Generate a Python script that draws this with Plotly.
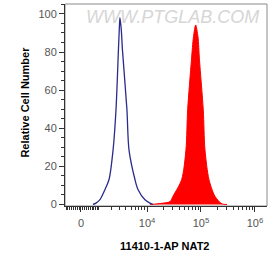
import numpy as np
import plotly.graph_objects as go

# ---- data (fluorescence intensity, relative cell number) ----
blue_x = [640, 820, 1080, 1459, 1803, 2209, 2536, 2840, 2955, 3045, 3231, 3418, 4172, 4564, 5935, 6759, 9148, 11331, 12889]
blue_y = [0, 0.7, 2.5, 7.9, 13.1, 28.8, 49.7, 81, 92, 98, 92, 81, 49.7, 28.8, 13.1, 7.9, 2.5, 0.7, 0]

red_x = [11331, 17400, 26670, 30300, 43910, 52740, 56700, 66690, 72640, 79770, 88000, 93800, 110300, 118580, 140640, 181770, 244960, 303230]
red_y = [0, 0.5, 1.5, 4.3, 13.1, 28.8, 49.7, 75.9, 88, 94.2, 88, 75.9, 49.7, 28.8, 13.1, 4.3, 0.3, 0]

x_major = [0, 1e4, 1e5, 1e6]
x_major_text = ["0", "10<sup>4</sup>", "10<sup>5</sup>", "10<sup>6</sup>"]
x_range_data = [-880, 1.67e6]
y_major = [0, 20, 40, 60, 80, 100]

x_title = "11410-1-AP NAT2"
y_title = "Relative Cell Number"
watermark = "WWW.PTGLAB.COM"

# ---- biexponential-like display scale ----
A = 1199.0
def t(v):
    return np.arcsinh(np.asarray(v, dtype=float) / A) / np.log(10)

minor_vals = [-100 * k for k in range(1, 9)] + [100 * k for k in range(1, 10)]
for n in (3, 4, 5):
    for k in range(1, 10):
        v = k * 10 ** n
        if v not in x_major:
            minor_vals.append(v)

fig = go.Figure()
fig.add_trace(go.Scatter(
    x=t(red_x), y=red_y, mode="lines", fill="tozeroy",
    line=dict(color="#ff0000", width=1, shape="spline", smoothing=0.8),
    fillcolor="#ff0000", hoverinfo="skip", showlegend=False))
fig.add_trace(go.Scatter(
    x=t(blue_x), y=blue_y, mode="lines",
    line=dict(color="#2b2b8c", width=1.3, shape="spline", smoothing=0.8),
    hoverinfo="skip", showlegend=False))

font_family = "Liberation Sans, Arial, sans-serif"

fig.update_layout(
    width=273, height=257,
    margin=dict(l=65, r=6, t=4, b=51),
    paper_bgcolor="white", plot_bgcolor="white",
    font=dict(family=font_family),
    xaxis=dict(
        range=list(t(x_range_data)), showgrid=False, zeroline=False,
        showline=True, linecolor="#333", linewidth=1,
        tickmode="array", tickvals=list(t(x_major)), ticktext=x_major_text,
        ticks="outside", ticklen=5, tickcolor="#333", tickwidth=1,
        tickfont=dict(size=11, color="#555"), ticklabelstandoff=2,
        minor=dict(tickmode="array", tickvals=list(t(minor_vals)),
                   ticks="outside", ticklen=3, tickcolor="#333", tickwidth=1),
    ),
    yaxis=dict(
        range=[-0.8, 105.2], showgrid=False, zeroline=False,
        showline=True, linecolor="#333", linewidth=1,
        tickmode="array", tickvals=y_major,
        ticks="outside", ticklen=5, tickcolor="#333", tickwidth=1,
        tickfont=dict(size=11, color="#555"),
        minor=dict(dtick=5, tick0=0, ticks="outside", ticklen=3,
                   tickcolor="#333", tickwidth=1),
    ),
    shapes=[dict(type="rect", xref="paper", yref="paper", x0=0, x1=1, y0=0, y1=1,
                 line=dict(color="#8a8a8a", width=1), layer="below")],
    annotations=[
        dict(text=y_title, xref="paper", yref="paper", x=-0.198, y=0.512,
             textangle=-90, showarrow=False, xanchor="center", yanchor="middle",
             font=dict(size=11, color="black", family=font_family, weight="bold")),
        dict(text=x_title, xref="paper", yref="paper", x=0.495, y=-0.198,
             showarrow=False, xanchor="center", yanchor="middle",
             font=dict(size=11, color="black", family=font_family, weight="bold")),
        dict(text=watermark, xref="paper", yref="paper", x=0.53, y=0.935,
             showarrow=False, xanchor="center", yanchor="middle",
             font=dict(size=18, color="#d6d6d6", family=font_family, style="italic")),
    ],
)

fig.write_html("out.html", post_script="document.body.style.margin='0';",
               config={"displayModeBar": False})
